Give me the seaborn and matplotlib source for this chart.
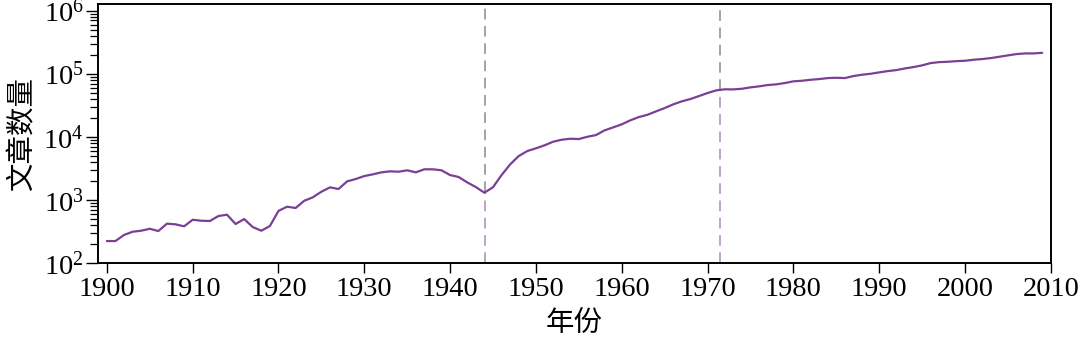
import numpy as np
import pandas as pd
import matplotlib
matplotlib.use("Agg")
import matplotlib.pyplot as plt
import matplotlib.ticker as mticker
import seaborn as sns

years = list(range(1900, 2010))
counts = [
    225, 225, 281, 316, 328, 352, 324, 424, 414, 385,
    489, 472, 467, 560, 588, 419, 502, 375, 328, 389,
    675, 787, 750, 977, 1107, 1358, 1592, 1500, 1983, 2157,
    2405, 2560, 2754, 2856, 2817, 2965, 2754, 3076, 3076, 2965,
    2494, 2322, 1908, 1610, 1310, 1600, 2494, 3681, 4989, 5985,
    6607, 7367, 8400, 9036, 9377, 9268, 10070, 10715, 12700, 14180,
    15830, 18320, 20650, 22440, 25410, 28660, 32800, 36590, 39810, 44380,
    49550, 54600, 56800, 56600, 57900, 60900, 63200, 66300, 68000, 71300,
    75900, 77500, 80400, 82400, 85500, 86500, 85500, 92000, 96600, 100000,
    105200, 110300, 114400, 121600, 127600, 135800, 147600, 153000, 154900, 158600,
    160700, 166800, 171000, 177100, 185900, 195500, 205000, 210000, 210000, 214800,
]
breakpoints = [1944.1, 1971.5]
xticks = [1900, 1910, 1920, 1930, 1940, 1950, 1960, 1970, 1980, 1990, 2000, 2010]
xlabel = "年份"
ylabel = "文章数量"

df = pd.DataFrame({"year": years, "count": counts})

sns.set_style("ticks")
plt.rcParams["font.family"] = ["Liberation Serif", "Noto Sans CJK SC", "DejaVu Sans"]
plt.rcParams["mathtext.fontset"] = "stix"
plt.rcParams["text.color"] = "black"
plt.rcParams["axes.labelcolor"] = "black"
plt.rcParams["xtick.color"] = "black"
plt.rcParams["ytick.color"] = "black"

fig = plt.figure(figsize=(10.8, 3.38), dpi=100)
ax = fig.add_axes([0.091, 0.221, 0.8819, 0.767])

line_color = "#7b3f95"
sns.lineplot(data=df, x="year", y="count", ax=ax, color=line_color, linewidth=1.6, zorder=3)
ax.set_yscale("log")
ax.set_ylim(100, 1.27e6)
ax.set_xlim(1899.0, 2010)
ax.yaxis.set_major_locator(mticker.LogLocator(base=10, numticks=20))
ax.yaxis.set_minor_locator(mticker.LogLocator(base=10, subs=np.arange(2, 10), numticks=20))
ax.yaxis.set_minor_formatter(mticker.NullFormatter())

logc = np.log10(np.array(counts, dtype=float))
for bp in breakpoints:
    v = 10 ** np.interp(bp, years, logc)
    ax.vlines(bp, v, 1.27e6, colors="#8a8a8a", linestyles=(0, (7, 4.3)), linewidth=1.1, zorder=2)
    ax.vlines(bp, 100, v, colors="#a98bb8", linestyles=(0, (7, 4.3)), linewidth=1.1, zorder=2)

ax.set_xticks(xticks)
ax.set_xticklabels([str(t) for t in xticks])
ax.tick_params(axis="both", which="major", direction="out", labelsize=20.5, width=1.0,
               color="black", labelcolor="black")
ax.tick_params(axis="y", which="major", length=8.5, pad=2)
ax.tick_params(axis="x", which="major", length=7, pad=3)
ax.tick_params(axis="y", which="minor", left=True, length=5.5, width=0.9, direction="out", color="black")
ax.tick_params(axis="x", which="minor", bottom=False)

for s in ax.spines.values():
    s.set_visible(True)
    s.set_linewidth(1.4)
    s.set_color("black")

ax.set_xlabel(xlabel, fontsize=20.5, family=["Noto Sans CJK SC"], labelpad=4, color="black")
ax.set_ylabel(ylabel, fontsize=20.5, family=["Noto Sans CJK SC"], labelpad=4, color="black")

fig.savefig("out.png", dpi=100)
